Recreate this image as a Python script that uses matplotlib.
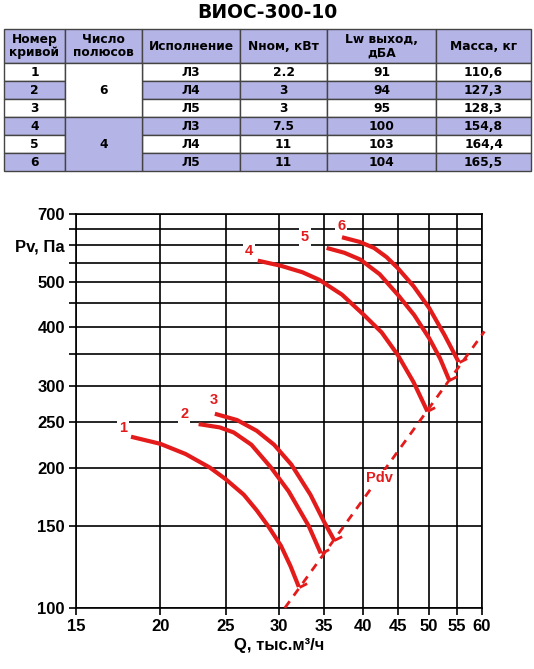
import matplotlib
matplotlib.use("Agg")
import matplotlib.pyplot as plt
from matplotlib.path import Path

plt.rcParams['font.family'] = ['Liberation Sans', 'DejaVu Sans']
plt.rcParams['font.weight'] = 'bold'

# ---------------- data ----------------
title = "ВИОС-300-10"
headers = ['Номер\nкривой', 'Число\nполюсов', 'Исполнение', 'Nном, кВт', 'Lw выход,\nдБА', 'Масса, кг']
curve_nums = ['1', '2', '3', '4', '5', '6']
poles = ['6', '4']
versions = ['Л3', 'Л4', 'Л5', 'Л3', 'Л4', 'Л5']
power = ['2.2', '3', '3', '7.5', '11', '11']
lw_out = ['91', '94', '95', '100', '103', '104']
mass = ['110,6', '127,3', '128,3', '154,8', '164,4', '165,5']

q1 = [18.1, 20.0, 21.8, 23.7, 25.0, 26.6, 27.8, 28.9, 30.2, 31.2, 32.1]
p1 = [233, 225, 214, 200, 189, 175, 162, 150, 136, 123, 111]
q2 = [22.8, 24.5, 25.7, 27.3, 29.2, 31.0, 33.2, 34.6]
p2 = [248, 244, 238, 224, 200, 178, 150, 131]
q3 = [24.1, 26.0, 27.8, 29.5, 31.3, 33.4, 35.0, 36.2]
p3 = [261, 253, 240, 224, 203, 175, 153, 140]
q4 = [27.9, 30.2, 32.5, 34.4, 37.2, 40.1, 42.6, 45.0, 47.5, 49.8]
p4 = [556, 542, 525, 506, 470, 425, 390, 349, 305, 264]
q5 = [35.3, 37.5, 39.6, 42.3, 45.0, 47.6, 50.1, 52.0, 53.6]
p5 = [592, 578, 559, 520, 470, 425, 379, 343, 309]
q6 = [37.2, 39.5, 41.5, 43.3, 45.0, 47.5, 50.1, 52.8, 55.4]
p6 = [624, 610, 592, 566, 536, 490, 440, 385, 337]
curves_q = [q1, q2, q3, q4, q5, q6]
curves_p = [p1, p2, p3, p4, p5, p6]

label_q = [17.6, 21.7, 24.0, 27.1, 32.8, 37.1]
label_p = [243, 261, 279, 582, 624, 661]

pdv_q = [30.6, 60.5]
pdv_p = [100, 392]
pdv_label = (42.3, 190)

xticks = [15, 20, 25, 30, 35, 40, 45, 50, 55, 60]
yticks = [100, 150, 200, 250, 300, 350, 400, 450, 500, 550, 600, 650, 700]
ytick_labels = ['100', '150', '200', '250', '300', '', '400', '', '500', '', 'Pv, Па', '', '700']

RED = '#e31b1b'
LAV = '#b4b4e6'
TFONT = ['DejaVu Sans']

# ---------------- figure ----------------
W, H = 534, 669
fig = plt.figure(figsize=(W / 100, H / 100), dpi=100)

# ---- chart ----
ax = fig.add_axes([76 / W, 1 - 608 / H, (482 - 76) / W, (608 - 214) / H])
ax.set_xscale('log')
ax.set_yscale('log')
ax.set_xlim(15, 60)
ax.set_ylim(100, 700)
ax.set_xticks(xticks)
ax.set_xticklabels([str(v) for v in xticks])
ax.set_yticks(yticks)
ax.set_yticklabels(ytick_labels)
ax.minorticks_off()
ax.grid(True, which='major', color='black', lw=1.2)
ax.set_axisbelow(True)
ax.tick_params(direction='out', length=5, width=1.2, labelsize=12, pad=3)
for s in ax.spines.values():
    s.set_linewidth(1.2)
for lab in ax.get_xticklabels() + ax.get_yticklabels():
    lab.set_fontweight('bold')

end_tick = Path([(0, 0), (0.9, 0.45)], [Path.MOVETO, Path.LINETO])
for q, p in zip(curves_q, curves_p):
    ax.plot(q, p, color=RED, lw=3, solid_capstyle='butt', solid_joinstyle='round', zorder=4)
    ax.plot(q[-1], p[-1], marker=end_tick, markersize=11, color=RED,
            markeredgewidth=2, zorder=4)

ax.plot(pdv_q, pdv_p, color=RED, lw=2, ls=(0, (3, 2.5)), zorder=3, clip_on=False)

for t, x, y in zip(curve_nums, label_q, label_p):
    ax.text(x, y, t, color=RED, fontsize=10.5, fontweight='bold', ha='center', va='center',
            bbox=dict(facecolor='white', edgecolor='none', pad=1.5), zorder=5)
ax.text(pdv_label[0], pdv_label[1], 'Pdv', color=RED, fontsize=10.5, fontweight='bold',
        ha='center', va='center', bbox=dict(facecolor='white', edgecolor='none', pad=1), zorder=5)

ax.set_xlabel('Q, тыс.м³/ч', fontsize=12, fontweight='bold', labelpad=3)

# ---- table ----
tax = fig.add_axes([0, 0, 1, 1])
tax.set_xlim(0, W)
tax.set_ylim(H, 0)
tax.axis('off')
tax.patch.set_visible(False)

tax.text(W / 2, 12, title, ha='center', va='center', fontsize=13.5, fontweight='bold',
         family=TFONT)

cols = [4, 65, 142, 240, 327, 436, 531]
rows = [29, 63, 81, 99, 117, 135, 153, 171]
EDGE = '#444444'
FS = 8.8


def cell(x0, x1, y0, y1, fc):
    tax.add_patch(plt.Rectangle((x0, y0), x1 - x0, y1 - y0, facecolor=fc,
                                edgecolor=EDGE, lw=1))


def ctext(x, y, s):
    tax.text(x, y, s, ha='center', va='center', fontsize=FS, fontweight='bold',
             family=TFONT, linespacing=1.05)


for c in range(6):
    cell(cols[c], cols[c + 1], rows[0], rows[1], LAV)
    ctext((cols[c] + cols[c + 1]) / 2, (rows[0] + rows[1]) / 2, headers[c])

row_vals = [curve_nums, None, versions, power, lw_out, mass]
for r in range(6):
    fc = LAV if r % 2 == 1 else 'white'
    for c in range(6):
        if c == 1:
            continue
        cell(cols[c], cols[c + 1], rows[r + 1], rows[r + 2], fc)
        ctext((cols[c] + cols[c + 1]) / 2, (rows[r + 1] + rows[r + 2]) / 2 + 0.5, row_vals[c][r])

cell(cols[1], cols[2], rows[1], rows[4], 'white')
ctext((cols[1] + cols[2]) / 2, (rows[1] + rows[4]) / 2, poles[0])
cell(cols[1], cols[2], rows[4], rows[7], LAV)
ctext((cols[1] + cols[2]) / 2, (rows[4] + rows[7]) / 2, poles[1])

fig.savefig('out.png', dpi=100)
